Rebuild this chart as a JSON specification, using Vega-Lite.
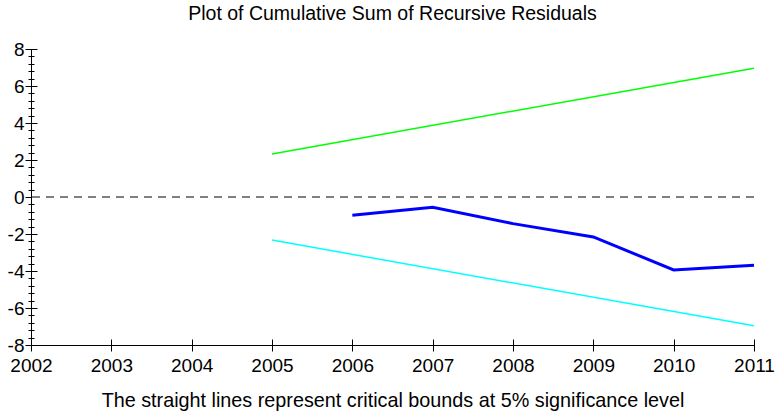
{
  "$schema": "https://vega.github.io/schema/vega-lite/v6.json",
  "autosize": "none",
  "width": 723,
  "height": 296,
  "padding": {"left": 31, "top": 49, "right": 23, "bottom": 69},
  "background": "white",
  "config": {
    "view": {"stroke": null},
    "font": "Liberation Sans",
    "axis": {"grid": false, "domainColor": "#000000", "tickColor": "#000000", "labelColor": "#000000", "titleColor": "#000000", "labelFont": "Liberation Sans", "titleFont": "Liberation Sans", "titleFontWeight": "normal"}
  },
  "title": {
    "text": "Plot of Cumulative Sum of Recursive Residuals",
    "font": "Liberation Sans",
    "fontSize": 19.5,
    "fontWeight": "normal",
    "color": "#000000",
    "anchor": "middle",
    "frame": "group",
    "offset": 16
  },
  "datasets": {
    "cusum": [
      {"year": 2006, "value": -0.99},
      {"year": 2007, "value": -0.56},
      {"year": 2008, "value": -1.44},
      {"year": 2009, "value": -2.16},
      {"year": 2010, "value": -3.94},
      {"year": 2011, "value": -3.69}
    ],
    "bounds": [
      {"year": 2005, "value": 2.33, "bound": "upper"},
      {"year": 2011, "value": 6.96, "bound": "upper"},
      {"year": 2005, "value": -2.33, "bound": "lower"},
      {"year": 2011, "value": -6.96, "bound": "lower"}
    ],
    "zero": [{"value": 0}]
  },
  "resolve": {"axis": {"x": "independent", "y": "independent"}},
  "layer": [
    {
      "data": {"name": "zero"},
      "mark": {"type": "rule", "color": "#808080", "strokeWidth": 2, "strokeDash": [8, 6]},
      "encoding": {
        "y": {
          "field": "value", "type": "quantitative",
          "scale": {"domain": [-8, 8], "nice": false, "zero": false},
          "axis": {"orient": "left", "offset": 0, "ticks": false, "labels": false, "domain": true, "domainWidth": 1, "title": null}
        }
      }
    },
    {
      "data": {"name": "bounds"},
      "mark": {"type": "line", "strokeWidth": 1.5},
      "encoding": {
        "x": {
          "field": "year", "type": "quantitative",
          "scale": {"domain": [2002, 2011], "nice": false, "zero": false},
          "axis": {"orient": "bottom", "offset": 0, "ticks": false, "labels": false, "domain": true, "title": null}
        },
        "y": {
          "field": "value", "type": "quantitative",
          "axis": {"orient": "left", "offset": -3, "values": [-7.6,-7.2,-6.8,-6.4,-5.6,-5.2,-4.8,-4.4,-3.6,-3.2,-2.8,-2.4,-1.6,-1.2,-0.8,-0.4,0.4,0.8,1.2,1.6,2.4,2.8,3.2,3.6,4.4,4.8,5.2,5.6,6.4,6.8,7.2,7.6], "tickSize": 6, "labels": false, "domain": false, "title": null}
        },
        "color": {
          "field": "bound", "type": "nominal",
          "scale": {"domain": ["upper", "lower"], "range": ["#00ff00", "#00ffff"]},
          "legend": null
        }
      }
    },
    {
      "data": {"name": "cusum"},
      "mark": {"type": "line", "color": "#0000ff", "strokeWidth": 3},
      "encoding": {
        "x": {
          "field": "year", "type": "quantitative",
          "axis": {"orient": "bottom", "offset": -6, "values": [2002,2003,2004,2005,2006,2007,2008,2009,2010,2011], "format": "d", "tickSize": 12, "domain": false, "labelFontSize": 19, "labelPadding": 5, "labelOverlap": false, "labelBound": false, "labelFlush": false, "title": "The straight lines represent critical bounds at 5% significance level", "titleFontSize": 19.8, "titlePadding": 15}
        },
        "y": {
          "field": "value", "type": "quantitative",
          "axis": {"orient": "left", "offset": -6, "values": [-8,-6,-4,-2,0,2,4,6,8], "tickSize": 12, "domain": false, "labelFontSize": 19, "labelPadding": 1, "labelExpr": "'' + datum.value", "title": null}
        }
      }
    }
  ]
}
